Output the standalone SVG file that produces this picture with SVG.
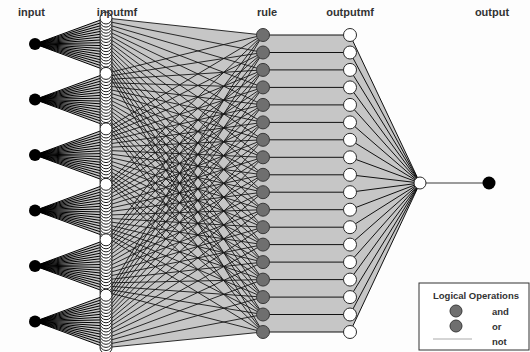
<svg xmlns="http://www.w3.org/2000/svg" width="530" height="352" viewBox="0 0 530 352">
<style>
.bg{fill:#c6c6c6;stroke:none}
.fan{stroke:#000;stroke-width:1;fill:none}
.ln{stroke:#151515;stroke-width:0.9;fill:none}
.hl{stroke:#111;stroke-width:1;fill:none}
.inp{fill:#000}
.mf{fill:#fff;stroke:#1e1e1e;stroke-width:1}
.rule{fill:#6f6f6f;stroke:#3a3a3a;stroke-width:1}
.omf{fill:#fff;stroke:#2a2a2a;stroke-width:1}
.lab{font-family:"Liberation Sans",Arial,sans-serif;font-weight:bold;font-size:11px;fill:#333;text-anchor:middle}
.leg{font-family:"Liberation Sans",Arial,sans-serif;font-weight:bold;font-size:9.5px;fill:#333}
</style>
<rect width="530" height="352" fill="#fdfdfd"/>
<g id="connectors">
<polygon class="bg" points="35,44 106,18 106,70.4"/>
<polygon class="bg" points="35,99.5 106,73.4 106,125.8"/>
<polygon class="bg" points="35,155 106,128.9 106,181.2"/>
<polygon class="bg" points="35,210.5 106,184.3 106,236.7"/>
<polygon class="bg" points="35,266 106,239.8 106,292.1"/>
<polygon class="bg" points="35,321.4 106,295.2 106,347.6"/>
<polygon class="bg" points="106,18 263,35 263,332 106,347.6"/>
<rect class="bg" x="263" y="35" width="87" height="297"/>
<polygon class="bg" points="350,35 420,183 350,332"/>
<path class="fan" d="M35 44L106 18M35 44L106 21.1M35 44L106 24.2M35 44L106 27.2M35 44L106 30.3M35 44L106 33.4M35 44L106 36.5M35 44L106 39.6M35 44L106 42.6M35 44L106 45.7M35 44L106 48.8M35 44L106 51.9M35 44L106 55M35 44L106 58M35 44L106 61.1M35 44L106 64.2M35 44L106 67.3M35 44L106 70.4"/>
<path class="fan" d="M35 99.5L106 73.4M35 99.5L106 76.5M35 99.5L106 79.6M35 99.5L106 82.7M35 99.5L106 85.8M35 99.5L106 88.8M35 99.5L106 91.9M35 99.5L106 95M35 99.5L106 98.1M35 99.5L106 101.2M35 99.5L106 104.2M35 99.5L106 107.3M35 99.5L106 110.4M35 99.5L106 113.5M35 99.5L106 116.6M35 99.5L106 119.6M35 99.5L106 122.7M35 99.5L106 125.8"/>
<path class="fan" d="M35 155L106 128.9M35 155L106 132M35 155L106 135M35 155L106 138.1M35 155L106 141.2M35 155L106 144.3M35 155L106 147.4M35 155L106 150.4M35 155L106 153.5M35 155L106 156.6M35 155L106 159.7M35 155L106 162.8M35 155L106 165.8M35 155L106 168.9M35 155L106 172M35 155L106 175.1M35 155L106 178.2M35 155L106 181.2"/>
<path class="fan" d="M35 210.5L106 184.3M35 210.5L106 187.4M35 210.5L106 190.5M35 210.5L106 193.6M35 210.5L106 196.6M35 210.5L106 199.7M35 210.5L106 202.8M35 210.5L106 205.9M35 210.5L106 209M35 210.5L106 212M35 210.5L106 215.1M35 210.5L106 218.2M35 210.5L106 221.3M35 210.5L106 224.4M35 210.5L106 227.4M35 210.5L106 230.5M35 210.5L106 233.6M35 210.5L106 236.7"/>
<path class="fan" d="M35 266L106 239.8M35 266L106 242.8M35 266L106 245.9M35 266L106 249M35 266L106 252.1M35 266L106 255.2M35 266L106 258.2M35 266L106 261.3M35 266L106 264.4M35 266L106 267.5M35 266L106 270.6M35 266L106 273.6M35 266L106 276.7M35 266L106 279.8M35 266L106 282.9M35 266L106 286M35 266L106 289M35 266L106 292.1"/>
<path class="fan" d="M35 321.4L106 295.2M35 321.4L106 298.3M35 321.4L106 301.4M35 321.4L106 304.4M35 321.4L106 307.5M35 321.4L106 310.6M35 321.4L106 313.7M35 321.4L106 316.8M35 321.4L106 319.8M35 321.4L106 322.9M35 321.4L106 326M35 321.4L106 329.1M35 321.4L106 332.2M35 321.4L106 335.2M35 321.4L106 338.3M35 321.4L106 341.4M35 321.4L106 344.5M35 321.4L106 347.6"/>
<path class="ln" d="M106 18L263 35M106 73.4L263 35M106 128.9L263 35M106 184.3L263 35M106 239.8L263 35M106 295.2L263 35"/>
<path class="ln" d="M106 21.1L263 52.5M106 76.5L263 52.5M106 132L263 52.5M106 187.4L263 52.5M106 242.8L263 52.5M106 298.3L263 52.5"/>
<path class="ln" d="M106 24.2L263 69.9M106 79.6L263 69.9M106 135L263 69.9M106 190.5L263 69.9M106 245.9L263 69.9M106 301.4L263 69.9"/>
<path class="ln" d="M106 27.2L263 87.4M106 82.7L263 87.4M106 138.1L263 87.4M106 193.6L263 87.4M106 249L263 87.4M106 304.4L263 87.4"/>
<path class="ln" d="M106 30.3L263 104.9M106 85.8L263 104.9M106 141.2L263 104.9M106 196.6L263 104.9M106 252.1L263 104.9M106 307.5L263 104.9"/>
<path class="ln" d="M106 33.4L263 122.4M106 88.8L263 122.4M106 144.3L263 122.4M106 199.7L263 122.4M106 255.2L263 122.4M106 310.6L263 122.4"/>
<path class="ln" d="M106 36.5L263 139.8M106 91.9L263 139.8M106 147.4L263 139.8M106 202.8L263 139.8M106 258.2L263 139.8M106 313.7L263 139.8"/>
<path class="ln" d="M106 39.6L263 157.3M106 95L263 157.3M106 150.4L263 157.3M106 205.9L263 157.3M106 261.3L263 157.3M106 316.8L263 157.3"/>
<path class="ln" d="M106 42.6L263 174.8M106 98.1L263 174.8M106 153.5L263 174.8M106 209L263 174.8M106 264.4L263 174.8M106 319.8L263 174.8"/>
<path class="ln" d="M106 45.7L263 192.2M106 101.2L263 192.2M106 156.6L263 192.2M106 212L263 192.2M106 267.5L263 192.2M106 322.9L263 192.2"/>
<path class="ln" d="M106 48.8L263 209.7M106 104.2L263 209.7M106 159.7L263 209.7M106 215.1L263 209.7M106 270.6L263 209.7M106 326L263 209.7"/>
<path class="ln" d="M106 51.9L263 227.2M106 107.3L263 227.2M106 162.8L263 227.2M106 218.2L263 227.2M106 273.6L263 227.2M106 329.1L263 227.2"/>
<path class="ln" d="M106 55L263 244.6M106 110.4L263 244.6M106 165.8L263 244.6M106 221.3L263 244.6M106 276.7L263 244.6M106 332.2L263 244.6"/>
<path class="ln" d="M106 58L263 262.1M106 113.5L263 262.1M106 168.9L263 262.1M106 224.4L263 262.1M106 279.8L263 262.1M106 335.2L263 262.1"/>
<path class="ln" d="M106 61.1L263 279.6M106 116.6L263 279.6M106 172L263 279.6M106 227.4L263 279.6M106 282.9L263 279.6M106 338.3L263 279.6"/>
<path class="ln" d="M106 64.2L263 297.1M106 119.6L263 297.1M106 175.1L263 297.1M106 230.5L263 297.1M106 286L263 297.1M106 341.4L263 297.1"/>
<path class="ln" d="M106 67.3L263 314.5M106 122.7L263 314.5M106 178.2L263 314.5M106 233.6L263 314.5M106 289L263 314.5M106 344.5L263 314.5"/>
<path class="ln" d="M106 70.4L263 332M106 125.8L263 332M106 181.2L263 332M106 236.7L263 332M106 292.1L263 332M106 347.6L263 332"/>
<path class="hl" d="M263 35H350M263 52.5H350M263 69.9H350M263 87.4H350M263 104.9H350M263 122.4H350M263 139.8H350M263 157.3H350M263 174.8H350M263 192.2H350M263 209.7H350M263 227.2H350M263 244.6H350M263 262.1H350M263 279.6H350M263 297.1H350M263 314.5H350M263 332H350"/>
<path class="hl" d="M350 35L420 183M350 52.5L420 183M350 69.9L420 183M350 87.4L420 183M350 104.9L420 183M350 122.4L420 183M350 139.8L420 183M350 157.3L420 183M350 174.8L420 183M350 192.2L420 183M350 209.7L420 183M350 227.2L420 183M350 244.6L420 183M350 262.1L420 183M350 279.6L420 183M350 297.1L420 183M350 314.5L420 183M350 332L420 183"/>
<line x1="420" y1="183" x2="489" y2="183" stroke="#7a7a7a" stroke-width="1.5"/>
</g>
<g id="input1"><circle class="inp" cx="35" cy="44" r="6"/></g>
<g id="input2"><circle class="inp" cx="35" cy="99.5" r="6"/></g>
<g id="input3"><circle class="inp" cx="35" cy="155" r="6"/></g>
<g id="input4"><circle class="inp" cx="35" cy="210.5" r="6"/></g>
<g id="input5"><circle class="inp" cx="35" cy="266" r="6"/></g>
<g id="input6"><circle class="inp" cx="35" cy="321.4" r="6"/></g>
<g id="inputmf1">
<circle class="mf" cx="106" cy="70.4" r="6"/><circle class="mf" cx="106" cy="67.3" r="6"/><circle class="mf" cx="106" cy="64.2" r="6"/><circle class="mf" cx="106" cy="61.1" r="6"/><circle class="mf" cx="106" cy="58" r="6"/><circle class="mf" cx="106" cy="55" r="6"/><circle class="mf" cx="106" cy="51.9" r="6"/><circle class="mf" cx="106" cy="48.8" r="6"/><circle class="mf" cx="106" cy="45.7" r="6"/><circle class="mf" cx="106" cy="42.6" r="6"/><circle class="mf" cx="106" cy="39.6" r="6"/><circle class="mf" cx="106" cy="36.5" r="6"/><circle class="mf" cx="106" cy="33.4" r="6"/><circle class="mf" cx="106" cy="30.3" r="6"/><circle class="mf" cx="106" cy="27.2" r="6"/><circle class="mf" cx="106" cy="24.2" r="6"/><circle class="mf" cx="106" cy="21.1" r="6"/><circle class="mf" cx="106" cy="18" r="6"/>
</g>
<g id="inputmf2">
<circle class="mf" cx="106" cy="125.8" r="6"/><circle class="mf" cx="106" cy="122.7" r="6"/><circle class="mf" cx="106" cy="119.6" r="6"/><circle class="mf" cx="106" cy="116.6" r="6"/><circle class="mf" cx="106" cy="113.5" r="6"/><circle class="mf" cx="106" cy="110.4" r="6"/><circle class="mf" cx="106" cy="107.3" r="6"/><circle class="mf" cx="106" cy="104.2" r="6"/><circle class="mf" cx="106" cy="101.2" r="6"/><circle class="mf" cx="106" cy="98.1" r="6"/><circle class="mf" cx="106" cy="95" r="6"/><circle class="mf" cx="106" cy="91.9" r="6"/><circle class="mf" cx="106" cy="88.8" r="6"/><circle class="mf" cx="106" cy="85.8" r="6"/><circle class="mf" cx="106" cy="82.7" r="6"/><circle class="mf" cx="106" cy="79.6" r="6"/><circle class="mf" cx="106" cy="76.5" r="6"/><circle class="mf" cx="106" cy="73.4" r="6"/>
</g>
<g id="inputmf3">
<circle class="mf" cx="106" cy="181.2" r="6"/><circle class="mf" cx="106" cy="178.2" r="6"/><circle class="mf" cx="106" cy="175.1" r="6"/><circle class="mf" cx="106" cy="172" r="6"/><circle class="mf" cx="106" cy="168.9" r="6"/><circle class="mf" cx="106" cy="165.8" r="6"/><circle class="mf" cx="106" cy="162.8" r="6"/><circle class="mf" cx="106" cy="159.7" r="6"/><circle class="mf" cx="106" cy="156.6" r="6"/><circle class="mf" cx="106" cy="153.5" r="6"/><circle class="mf" cx="106" cy="150.4" r="6"/><circle class="mf" cx="106" cy="147.4" r="6"/><circle class="mf" cx="106" cy="144.3" r="6"/><circle class="mf" cx="106" cy="141.2" r="6"/><circle class="mf" cx="106" cy="138.1" r="6"/><circle class="mf" cx="106" cy="135" r="6"/><circle class="mf" cx="106" cy="132" r="6"/><circle class="mf" cx="106" cy="128.9" r="6"/>
</g>
<g id="inputmf4">
<circle class="mf" cx="106" cy="236.7" r="6"/><circle class="mf" cx="106" cy="233.6" r="6"/><circle class="mf" cx="106" cy="230.5" r="6"/><circle class="mf" cx="106" cy="227.4" r="6"/><circle class="mf" cx="106" cy="224.4" r="6"/><circle class="mf" cx="106" cy="221.3" r="6"/><circle class="mf" cx="106" cy="218.2" r="6"/><circle class="mf" cx="106" cy="215.1" r="6"/><circle class="mf" cx="106" cy="212" r="6"/><circle class="mf" cx="106" cy="209" r="6"/><circle class="mf" cx="106" cy="205.9" r="6"/><circle class="mf" cx="106" cy="202.8" r="6"/><circle class="mf" cx="106" cy="199.7" r="6"/><circle class="mf" cx="106" cy="196.6" r="6"/><circle class="mf" cx="106" cy="193.6" r="6"/><circle class="mf" cx="106" cy="190.5" r="6"/><circle class="mf" cx="106" cy="187.4" r="6"/><circle class="mf" cx="106" cy="184.3" r="6"/>
</g>
<g id="inputmf5">
<circle class="mf" cx="106" cy="292.1" r="6"/><circle class="mf" cx="106" cy="289" r="6"/><circle class="mf" cx="106" cy="286" r="6"/><circle class="mf" cx="106" cy="282.9" r="6"/><circle class="mf" cx="106" cy="279.8" r="6"/><circle class="mf" cx="106" cy="276.7" r="6"/><circle class="mf" cx="106" cy="273.6" r="6"/><circle class="mf" cx="106" cy="270.6" r="6"/><circle class="mf" cx="106" cy="267.5" r="6"/><circle class="mf" cx="106" cy="264.4" r="6"/><circle class="mf" cx="106" cy="261.3" r="6"/><circle class="mf" cx="106" cy="258.2" r="6"/><circle class="mf" cx="106" cy="255.2" r="6"/><circle class="mf" cx="106" cy="252.1" r="6"/><circle class="mf" cx="106" cy="249" r="6"/><circle class="mf" cx="106" cy="245.9" r="6"/><circle class="mf" cx="106" cy="242.8" r="6"/><circle class="mf" cx="106" cy="239.8" r="6"/>
</g>
<g id="inputmf6">
<circle class="mf" cx="106" cy="347.6" r="6"/><circle class="mf" cx="106" cy="344.5" r="6"/><circle class="mf" cx="106" cy="341.4" r="6"/><circle class="mf" cx="106" cy="338.3" r="6"/><circle class="mf" cx="106" cy="335.2" r="6"/><circle class="mf" cx="106" cy="332.2" r="6"/><circle class="mf" cx="106" cy="329.1" r="6"/><circle class="mf" cx="106" cy="326" r="6"/><circle class="mf" cx="106" cy="322.9" r="6"/><circle class="mf" cx="106" cy="319.8" r="6"/><circle class="mf" cx="106" cy="316.8" r="6"/><circle class="mf" cx="106" cy="313.7" r="6"/><circle class="mf" cx="106" cy="310.6" r="6"/><circle class="mf" cx="106" cy="307.5" r="6"/><circle class="mf" cx="106" cy="304.4" r="6"/><circle class="mf" cx="106" cy="301.4" r="6"/><circle class="mf" cx="106" cy="298.3" r="6"/><circle class="mf" cx="106" cy="295.2" r="6"/>
</g>
<g id="rules">
<g id="rule1"><circle class="rule" cx="263" cy="35" r="6.5"/></g>
<g id="rule2"><circle class="rule" cx="263" cy="52.5" r="6.5"/></g>
<g id="rule3"><circle class="rule" cx="263" cy="69.9" r="6.5"/></g>
<g id="rule4"><circle class="rule" cx="263" cy="87.4" r="6.5"/></g>
<g id="rule5"><circle class="rule" cx="263" cy="104.9" r="6.5"/></g>
<g id="rule6"><circle class="rule" cx="263" cy="122.4" r="6.5"/></g>
<g id="rule7"><circle class="rule" cx="263" cy="139.8" r="6.5"/></g>
<g id="rule8"><circle class="rule" cx="263" cy="157.3" r="6.5"/></g>
<g id="rule9"><circle class="rule" cx="263" cy="174.8" r="6.5"/></g>
<g id="rule10"><circle class="rule" cx="263" cy="192.2" r="6.5"/></g>
<g id="rule11"><circle class="rule" cx="263" cy="209.7" r="6.5"/></g>
<g id="rule12"><circle class="rule" cx="263" cy="227.2" r="6.5"/></g>
<g id="rule13"><circle class="rule" cx="263" cy="244.6" r="6.5"/></g>
<g id="rule14"><circle class="rule" cx="263" cy="262.1" r="6.5"/></g>
<g id="rule15"><circle class="rule" cx="263" cy="279.6" r="6.5"/></g>
<g id="rule16"><circle class="rule" cx="263" cy="297.1" r="6.5"/></g>
<g id="rule17"><circle class="rule" cx="263" cy="314.5" r="6.5"/></g>
<g id="rule18"><circle class="rule" cx="263" cy="332" r="6.5"/></g>
</g>
<g id="outputmfs">
<g id="outputmf1"><circle class="omf" cx="350" cy="35" r="6.5"/></g>
<g id="outputmf2"><circle class="omf" cx="350" cy="52.5" r="6.5"/></g>
<g id="outputmf3"><circle class="omf" cx="350" cy="69.9" r="6.5"/></g>
<g id="outputmf4"><circle class="omf" cx="350" cy="87.4" r="6.5"/></g>
<g id="outputmf5"><circle class="omf" cx="350" cy="104.9" r="6.5"/></g>
<g id="outputmf6"><circle class="omf" cx="350" cy="122.4" r="6.5"/></g>
<g id="outputmf7"><circle class="omf" cx="350" cy="139.8" r="6.5"/></g>
<g id="outputmf8"><circle class="omf" cx="350" cy="157.3" r="6.5"/></g>
<g id="outputmf9"><circle class="omf" cx="350" cy="174.8" r="6.5"/></g>
<g id="outputmf10"><circle class="omf" cx="350" cy="192.2" r="6.5"/></g>
<g id="outputmf11"><circle class="omf" cx="350" cy="209.7" r="6.5"/></g>
<g id="outputmf12"><circle class="omf" cx="350" cy="227.2" r="6.5"/></g>
<g id="outputmf13"><circle class="omf" cx="350" cy="244.6" r="6.5"/></g>
<g id="outputmf14"><circle class="omf" cx="350" cy="262.1" r="6.5"/></g>
<g id="outputmf15"><circle class="omf" cx="350" cy="279.6" r="6.5"/></g>
<g id="outputmf16"><circle class="omf" cx="350" cy="297.1" r="6.5"/></g>
<g id="outputmf17"><circle class="omf" cx="350" cy="314.5" r="6.5"/></g>
<g id="outputmf18"><circle class="omf" cx="350" cy="332" r="6.5"/></g>
</g>
<g id="aggregate"><circle class="omf" cx="420" cy="183" r="6"/></g>
<g id="output"><circle class="inp" cx="489" cy="183" r="6.5"/></g>
<g id="labels">
<text class="lab" x="31.5" y="16">input</text>
<text class="lab" x="117" y="16">inputmf</text>
<text class="lab" x="267" y="16">rule</text>
<text class="lab" x="350" y="16">outputmf</text>
<text class="lab" x="492" y="16">output</text>
</g>
<g id="legend">
<rect x="419" y="283" width="110" height="67" fill="#fff" stroke="#333" stroke-width="1"/>
<text class="leg" x="476" y="299" text-anchor="middle">Logical Operations</text>
<circle class="rule" cx="456" cy="311" r="6"/>
<circle class="rule" cx="456" cy="326" r="6"/>
<line x1="433" y1="339" x2="472" y2="339" stroke="#aaa" stroke-width="1"/>
<text class="leg" x="492" y="315">and</text>
<text class="leg" x="492" y="330">or</text>
<text class="leg" x="492" y="345">not</text>
</g>
</svg>
